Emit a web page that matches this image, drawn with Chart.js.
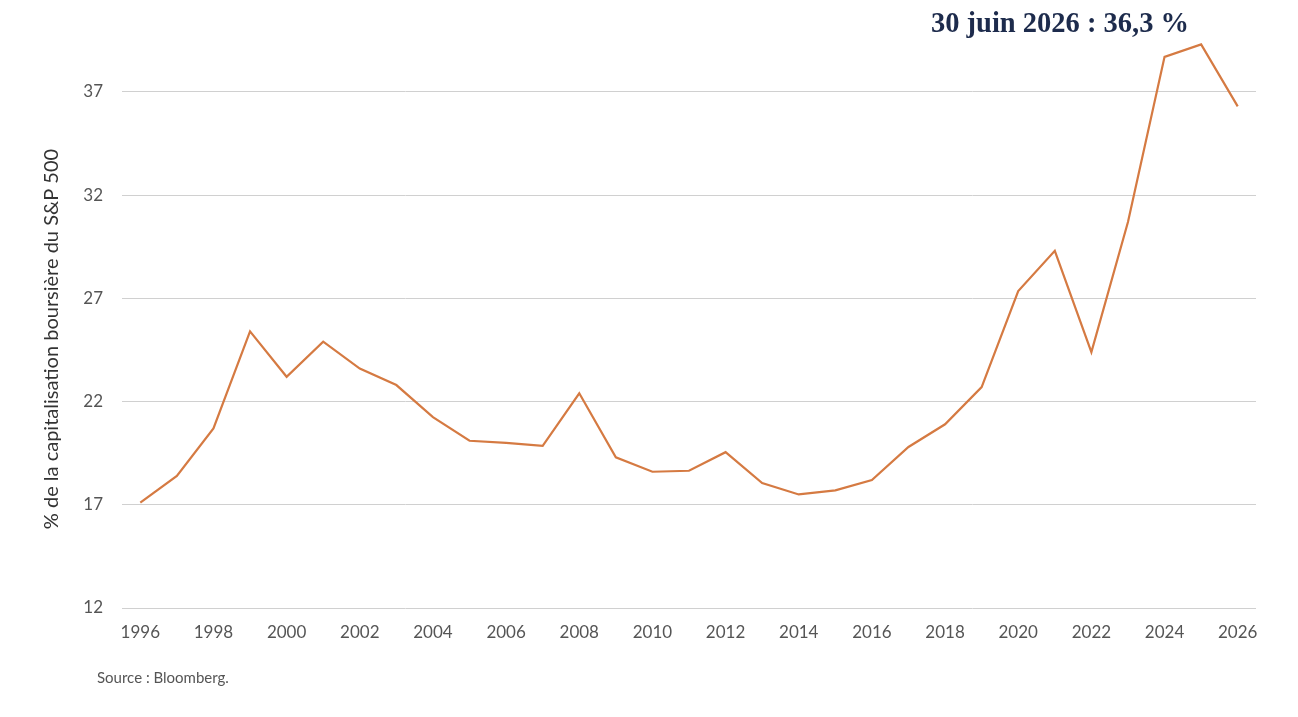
<!DOCTYPE html>
<html><head><meta charset="utf-8">
<script src="https://cdn.jsdelivr.net/npm/chart.js@4"></script>
<style>html,body{margin:0;padding:0;background:#fff;}#wrap{width:1298px;height:717px;position:relative;}</style>
</head><body><div id="wrap"><canvas id="c"></canvas></div>
<script>
const years = [1996,1997,1998,1999,2000,2001,2002,2003,2004,2005,2006,2007,2008,2009,2010,2011,2012,2013,2014,2015,2016,2017,2018,2019,2020,2021,2022,2023,2024,2025,2026];
const sharePct = [17.1,18.4,20.7,25.4,23.2,24.9,23.6,22.8,21.25,20.1,20.0,19.85,22.4,19.3,18.6,18.65,19.55,18.05,17.5,17.7,18.2,19.8,20.9,22.7,27.35,29.3,24.4,30.7,38.7,39.3,36.3];
const xTicks = [1996,1998,2000,2002,2004,2006,2008,2010,2012,2014,2016,2018,2020,2022,2024,2026];
const yTicks = [12,17,22,27,32,37];
const annotationText = "30 juin 2026 : 36,3 %";
const yTitle = "% de la capitalisation boursière du S&P 500";
const sourceText = "Source : Bloomberg.";

const textPlugin = {
  id: 'texts',
  afterDraw(chart) {
    const ctx = chart.ctx;
    ctx.save();
    ctx.fillStyle = '#1d2b4c';
    ctx.font = 'bold 28.5px "Liberation Serif", serif';
    ctx.textAlign = 'center';
    ctx.textBaseline = 'alphabetic';
    ctx.fillText(annotationText, 1060, 32);
    ctx.fillStyle = '#555';
    ctx.font = '15px Lato, sans-serif';
    ctx.textAlign = 'left';
    ctx.textBaseline = 'middle';
    ctx.fillText(sourceText, 97, 678);
    ctx.translate(52, 339);
    ctx.rotate(-Math.PI/2);
    ctx.fillStyle = '#333';
    ctx.font = '20px Lato, sans-serif';
    ctx.textAlign = 'center';
    ctx.fillText(yTitle, 0, 0);
    ctx.restore();
  }
};

new Chart(document.getElementById('c'), {
  type: 'line',
  data: {
    datasets: [{
      data: years.map((y,i)=>({x:y, y:sharePct[i]})),
      borderColor: '#d57a42',
      borderWidth: 2.2,
      pointRadius: 0,
      tension: 0,
      fill: false
    }]
  },
  options: {
    responsive: true,
    maintainAspectRatio: false,
    animation: false,
    layout: { padding: { top: 30, right: 42, bottom: 69, left: 0 } },
    plugins: { legend: { display: false }, tooltip: { enabled: false } },
    scales: {
      x: {
        type: 'linear', min: 1995.5, max: 2026.5,
        afterBuildTicks: s => { s.ticks = xTicks.map(v=>({value:v})); },
        afterFit: s => { s.height = 40; },
        grid: { display: false, drawTicks: false },
        border: { display: false },
        ticks: { color: '#555', font: { family: 'Lato', size: 17 }, padding: 14, maxRotation: 0, autoSkip: false, callback: v => String(v) }
      },
      y: {
        min: 12, max: 40,
        afterBuildTicks: s => { s.ticks = yTicks.map(v=>({value:v})); },
        afterFit: s => { s.width = 122; },
        grid: { color: '#d0d0d0', lineWidth: 1, drawTicks: false },
        border: { display: false },
        ticks: { color: '#555', font: { family: 'Lato', size: 17 }, padding: 19 }
      }
    }
  },
  plugins: [textPlugin]
});
</script></body></html>
